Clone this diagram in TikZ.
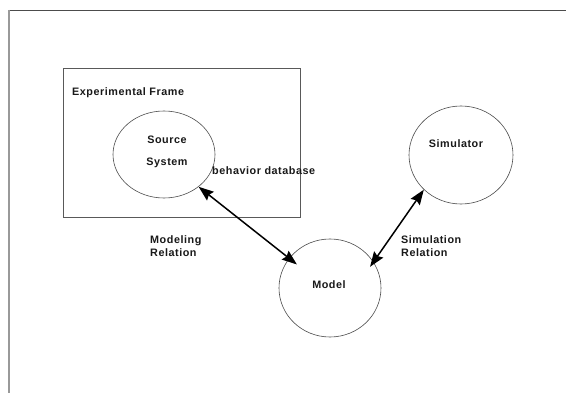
\documentclass[tikz,border=0pt]{standalone}
\usepackage{fontspec}
\setmainfont{Liberation Sans}[LetterSpace=5]
\usetikzlibrary{shapes.geometric,arrows.meta}
\begin{document}
\begin{tikzpicture}[x=1pt,y=-1pt,
  lbl/.style={font=\fontsize{10.8}{13.5}\selectfont\bfseries, text=black!90, inner sep=0pt},
  blob/.style={draw=black!70, line width=0.6pt, ellipse, inner sep=0pt},
  rel/.style={line width=1.5pt, {Stealth[length=15pt,width=11pt,inset=2pt]}-{Stealth[length=15pt,width=11pt,inset=2pt]}}]
\useasboundingbox (0,0) rectangle (566,393);
\fill[white] (0,0) rectangle (566,393);
% outer frame lines
\coordinate (tl) at (9,10);
\coordinate (tr) at (566,10);
\coordinate (bl) at (9,393);
\draw[black!70, line width=0.8pt] (tl) -- (tr);
\draw[black!40, line width=1.2pt] (tl) -- (bl);
% experimental frame
\node[draw=black!65, line width=0.6pt, minimum width=237pt, minimum height=149pt, inner sep=0pt, anchor=north west] (ef) at (62.5,68) {};
\node[lbl, anchor=west] (eft) at (72,93) {Experimental Frame};
% source system
\node[blob, minimum width=102pt, minimum height=87pt] (src) at (164,154.5) {};
\node[lbl] (s1) at (167,140) {Source};
\node[lbl] (s2) at (167,163) {System};
\node[lbl, anchor=west] (bd) at (212,171) {behavior database};
% simulator
\node[blob, minimum width=104pt, minimum height=98pt] (sim) at (461,155) {};
\node[lbl] (simt) at (456,144) {Simulator};
% model
\node[blob, minimum width=102pt, minimum height=98pt] (model) at (330,288) {};
\node[lbl] (modt) at (329,285) {Model};
% relation labels
\node[lbl, anchor=north west, align=left] (mr) at (150,235) {Modeling\\Relation};
\node[lbl, anchor=north west, align=left] (sr) at (401,235) {Simulation\\Relation};
% arrows
\draw[rel, shorten >=-10pt] (src.-43) -- (model.144);
\draw[rel, shorten >=-6pt] (sim.223) -- (model.31);
\end{tikzpicture}
\end{document}
